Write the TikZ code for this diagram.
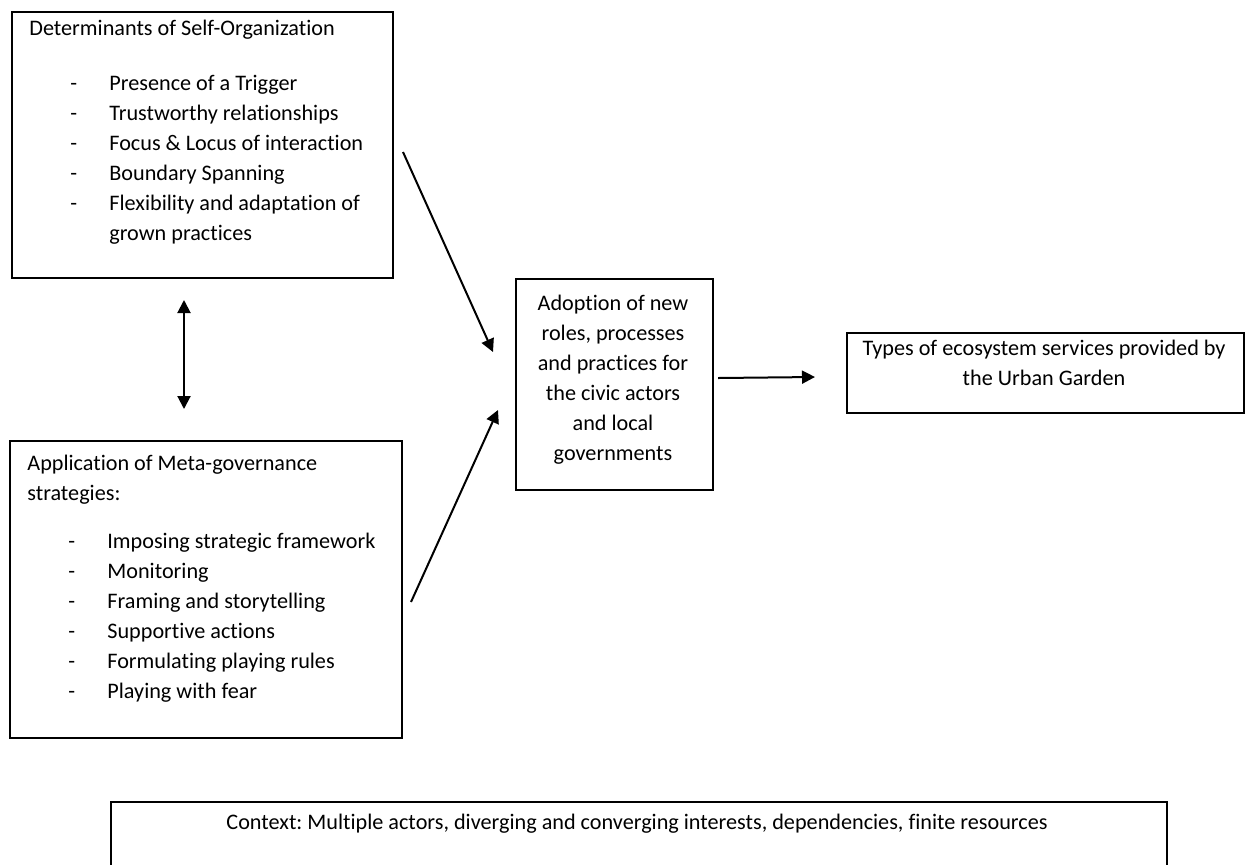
\documentclass[tikz,border=0pt]{standalone}
\usepackage{fontspec}
\setmainfont{Carlito}[Ligatures=NoCommon]
\usetikzlibrary{arrows.meta}
\frenchspacing
\newcommand\dashitem{\makebox[40pt][l]{\hspace{20.5pt}-}}
\begin{document}
\begin{tikzpicture}[x=0.5pt,y=-0.5pt,
  box/.style={draw=black, line width=0.75pt, inner sep=0pt, anchor=north west},
  txt/.style={inner sep=0pt, font=\fontsize{11.1}{15}\selectfont},
  tip/.style={},
  conn/.style={line width=1pt, -{Triangle[length=6.5pt,width=6.5pt]}},
  dconn/.style={line width=1pt, {Triangle[length=6.5pt,width=6.5pt]}-{Triangle[length=6.5pt,width=6.5pt]}}
]
\useasboundingbox (0,0) rectangle (1246,864);
\clip (0,0) rectangle (1246,864);

% boxes
\node[box, minimum width=190.5pt, minimum height=133pt] (tl) at (11,11) {};
\node[box, minimum width=196pt, minimum height=148.5pt] (bl) at (9,440) {};
\node[box, minimum width=98.5pt, minimum height=105.5pt] (c) at (515,278) {};
\node[box, minimum width=198.5pt, minimum height=40pt] (r) at (846,332) {};
\node[box, minimum width=528pt, minimum height=49.5pt] (ctx) at (110,801) {};

% texts
\node[txt, anchor=north west, align=left] (tlt) at (29,20) {%
Determinants of Self-Organization\\[12.5pt]
\dashitem Presence of a Trigger\\
\dashitem Trustworthy relationships\\
\dashitem Focus \& Locus of interaction\\
\dashitem Boundary Spanning\\
\dashitem Flexibility and adaptation of\\
\hspace*{40pt}grown practices};

\node[txt, anchor=north west, align=left] (blt) at (27,455) {%
Application of Meta-governance\\
strategies:\\[9pt]
\dashitem Imposing strategic framework\\
\dashitem Monitoring\\
\dashitem Framing and storytelling\\
\dashitem Supportive actions\\
\dashitem Formulating playing rules\\
\dashitem Playing with fear};

\node[txt, anchor=north, align=center] (ct) at (613,295) {%
Adoption of new\\
roles, processes\\
and practices for\\
the civic actors\\
and local\\
governments};

\node[txt, anchor=north, align=center] (rt) at (1044,340) {%
Types of ecosystem services provided by\\
the Urban Garden};

\node[txt, anchor=north] (ctxt) at (637,814) {Context: Multiple actors, diverging and converging interests, dependencies, finite resources};

% connector end points
\coordinate (d1) at (184,300);
\coordinate (d2) at (184,409);
\coordinate (a1s) at (403,152);
\coordinate (a1e) at (493,352);
\coordinate (a2s) at (411,602);
\coordinate (a2e) at (498,410);
\coordinate (a3s) at (718,378);
\coordinate (a3e) at (815,377);

\draw[dconn] (d1) -- (d2);
\draw[conn] (a1s) -- (a1e);
\draw[conn] (a2s) -- (a2e);
\draw[conn] (a3s) -- (a3e);
\end{tikzpicture}
\end{document}
